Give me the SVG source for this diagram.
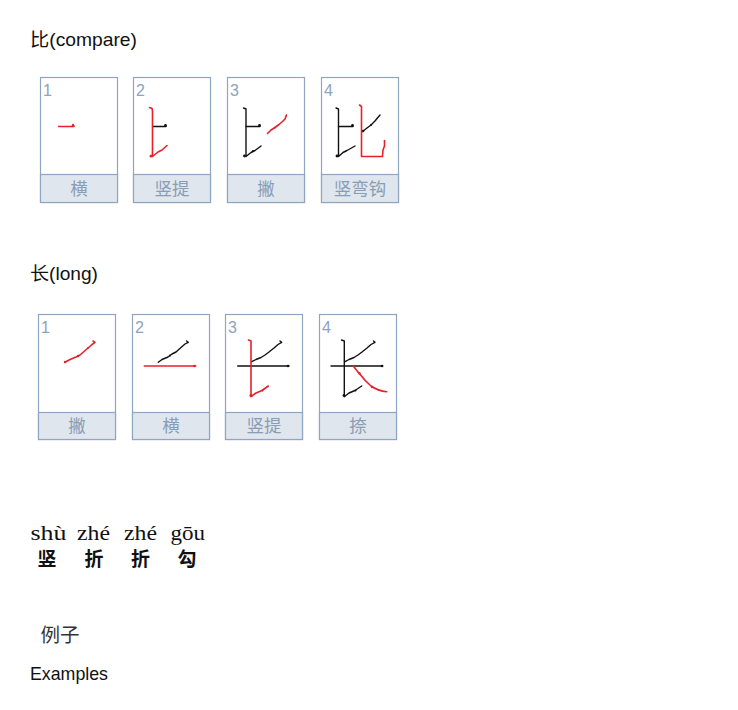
<svg xmlns="http://www.w3.org/2000/svg" width="738" height="710" viewBox="0 0 738 710">
<style>
.title{font-family:"Liberation Sans","Noto Sans CJK SC",sans-serif;font-size:18.5px;fill:#111}
.box{fill:#fff;stroke:#8fa6c0;stroke-width:1.2}
.band{fill:#dfe6ee;stroke:#8fa6c0;stroke-width:1.2}
.num{font-family:"Liberation Sans",sans-serif;font-size:16px;fill:#8ea3bd}
.lbl{font-family:"Noto Sans CJK SC",sans-serif;font-size:17.5px;fill:#8a9db5;text-anchor:middle}
.r{fill:none;stroke:#e8202a;stroke-width:1.6;stroke-linecap:round;stroke-linejoin:round}
.k{fill:none;stroke:#111;stroke-width:1.4;stroke-linecap:round;stroke-linejoin:round}
.rd{fill:#e8202a}
.kd{fill:#111}
.py{font-family:"Liberation Serif",serif;font-size:21px;fill:#111}
.hz{font-family:"Noto Sans CJK SC",sans-serif;font-size:19px;font-weight:bold;fill:#111}
</style>
<rect width="738" height="710" fill="#fff"/>

<text class="title" x="30" y="46" textLength="107" lengthAdjust="spacingAndGlyphs">比(compare)</text>

<g id="bi1">
<rect class="box" x="40.5" y="77.5" width="77" height="125"/>
<rect class="band" x="40.5" y="174.5" width="77" height="28"/>
<text class="num" x="43" y="95.5">1</text>
<text class="lbl" x="79" y="195">横</text>
<polyline class="r" points="58.5,126.5 74,126.5 73,124.5"/>
<circle class="rd" cx="73" cy="125.5" r="1.3"/>
</g>

<g id="bi2">
<rect class="box" x="133.5" y="77.5" width="77" height="125"/>
<rect class="band" x="133.5" y="174.5" width="77" height="28"/>
<text class="num" x="136" y="95.5">2</text>
<text class="lbl" x="172" y="195">竖提</text>
<polyline class="k" points="152.5,126.5 166,126.5"/>
<circle class="kd" cx="165.5" cy="125.5" r="1.4"/>
<polyline class="r" points="149.5,107.5 152,108.5 152.5,111 152.5,156.5 158,152 162,150 167,145.5"/>
<circle class="rd" cx="151" cy="156" r="1.5"/>
</g>

<g id="bi3">
<rect class="box" x="227.5" y="77.5" width="77" height="125"/>
<rect class="band" x="227.5" y="174.5" width="77" height="28"/>
<text class="num" x="230" y="95.5">3</text>
<text class="lbl" x="266" y="195">撇</text>
<polyline class="k" points="243.5,108 246,109 246,156.5 251,152.5 255,150.5 261,146"/>
<polyline class="k" points="246,126.5 260,126.5"/>
<circle class="kd" cx="259.5" cy="125.5" r="1.4"/>
<circle class="kd" cx="244.5" cy="156" r="1.4"/>
<circle class="kd" cx="253" cy="151" r="1"/>
<polyline class="r" points="267.5,133.5 271,130 275,127.5 279,124.5 283,121 285,119 286.5,115 285.5,117"/>
<circle class="rd" cx="275" cy="127.5" r="1"/>
</g>

<g id="bi4">
<rect class="box" x="321.5" y="77.5" width="77" height="125"/>
<rect class="band" x="321.5" y="174.5" width="77" height="28"/>
<text class="num" x="324" y="95.5">4</text>
<text class="lbl" x="360" y="195">竖弯钩</text>
<polyline class="k" points="336,108 338.5,109 338.5,156.5 343,152.5 347,150.5 355,146"/>
<polyline class="k" points="338.5,126.5 353,126.5"/>
<circle class="kd" cx="352.5" cy="125.5" r="1.4"/>
<circle class="kd" cx="337" cy="156" r="1.4"/>
<polyline class="k" points="362.5,131.5 367,128 371,125 375,121 377,118.5 380,115"/>
<circle class="kd" cx="363" cy="131" r="1.3"/>
<circle class="kd" cx="371" cy="125" r="1"/>
<polyline class="r" points="359.5,105 361.5,106.5 361.5,156.5 382.5,156.5 383,150 384.5,146 384.5,140.5"/>
</g>

<text class="title" x="30" y="280" textLength="68" lengthAdjust="spacingAndGlyphs">长(long)</text>

<g id="chang1">
<rect class="box" x="38.5" y="314.5" width="77" height="125"/>
<rect class="band" x="38.5" y="412.5" width="77" height="27"/>
<text class="num" x="41" y="332.5">1</text>
<text class="lbl" x="77" y="432">撇</text>
<polyline class="r" points="65,362.3 70,359.5 76,357 80,355 84,351.5 88,348 92,344.5 95,342.3 93,341"/>
<circle class="rd" cx="65" cy="362" r="1.2"/>
<circle class="rd" cx="78" cy="356" r="1.2"/>
<circle class="rd" cx="88" cy="348" r="1"/>
</g>

<g id="chang2">
<rect class="box" x="132.5" y="314.5" width="77" height="125"/>
<rect class="band" x="132.5" y="412.5" width="77" height="27"/>
<text class="num" x="135" y="332.5">2</text>
<text class="lbl" x="171" y="432">横</text>
<polyline class="k" points="158.3,362.3 162,359.5 168,357 172,354 176,352 181,347.5 185,344 188.3,342.3 186.5,341"/>
<circle class="kd" cx="170" cy="355.5" r="1"/>
<polyline class="r" points="144.3,366 195.7,366"/>
<circle class="rd" cx="194.5" cy="366" r="1.3"/>
</g>

<g id="chang3">
<rect class="box" x="225.5" y="314.5" width="77" height="125"/>
<rect class="band" x="225.5" y="412.5" width="77" height="27"/>
<text class="num" x="228" y="332.5">3</text>
<text class="lbl" x="264" y="432">竖提</text>
<polyline class="k" points="251.7,361.7 256,359.5 261,357.5 265,355 269,352 274,348 278,344.5 281.7,342.3 280,341"/>
<polyline class="k" points="237.7,366 289,366"/>
<circle class="kd" cx="288" cy="366" r="1.3"/>
<polyline class="r" points="248.5,340 251,341 251,396.7 256,393 262,390.5 268.3,386"/>
<circle class="rd" cx="251" cy="395.5" r="1.6"/>
<circle class="rd" cx="262.5" cy="390.5" r="1"/>
</g>

<g id="chang4">
<rect class="box" x="319.5" y="314.5" width="77" height="125"/>
<rect class="band" x="319.5" y="412.5" width="77" height="27"/>
<text class="num" x="322" y="332.5">4</text>
<text class="lbl" x="358" y="432">捺</text>
<polyline class="k" points="345,361.7 349,359.5 354,357.5 358,355 362,352 367,348 371,344.5 375,342.3 373.5,341"/>
<polyline class="k" points="331,366 382.7,366"/>
<circle class="kd" cx="382" cy="366" r="1.3"/>
<polyline class="k" points="341.5,340 344.3,341 344.3,396.7 349,393 355,390.5 361.7,386"/>
<circle class="kd" cx="344" cy="395.5" r="1.4"/>
<circle class="kd" cx="355.5" cy="390.5" r="1"/>
<path class="r" d="M353.3,366 Q357,371 359,373 Q365,381 371,386 Q378,391 386.7,391.7"/>
<circle class="rd" cx="359.5" cy="373.5" r="1.2"/>
<circle class="rd" cx="372" cy="387" r="1.2"/>
</g>

<text class="py" x="30.5" y="540" textLength="36" lengthAdjust="spacingAndGlyphs">shù</text>
<text class="py" x="77" y="540" textLength="33" lengthAdjust="spacingAndGlyphs">zhé</text>
<text class="py" x="124" y="540" textLength="33" lengthAdjust="spacingAndGlyphs">zhé</text>
<text class="py" x="170.5" y="540" textLength="34.5" lengthAdjust="spacingAndGlyphs">gōu</text>
<text class="hz" x="37.5" y="566">竖</text>
<text class="hz" x="84.5" y="566">折</text>
<text class="hz" x="131" y="566">折</text>
<text class="hz" x="177.5" y="566">勾</text>

<text x="40.5" y="642" style="font-family:'Noto Sans CJK SC',sans-serif;font-size:19.5px;fill:#333">例子</text>
<text class="title" x="30" y="680" textLength="78" lengthAdjust="spacingAndGlyphs">Examples</text>
</svg>
